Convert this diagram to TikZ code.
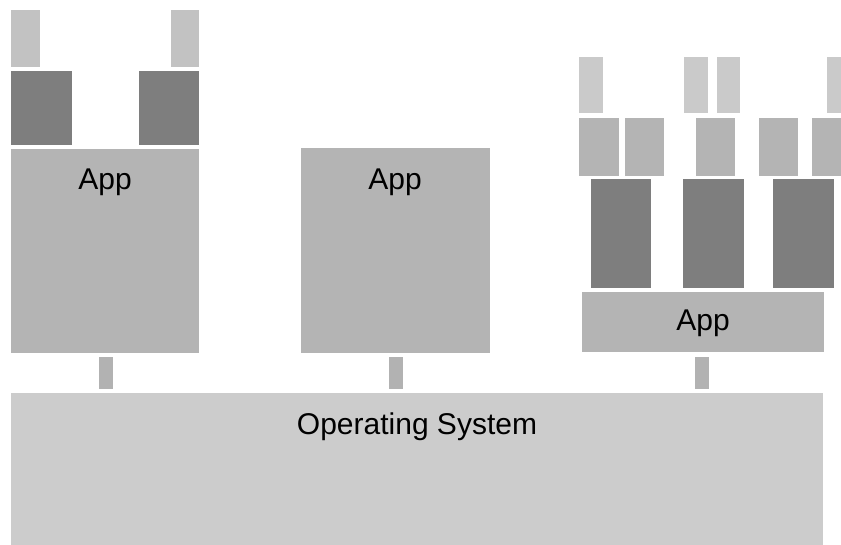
\documentclass[tikz,border=0pt]{standalone}
\usepackage{fontspec}
\setmainfont{Liberation Sans}
\definecolor{cLight}{HTML}{C2C2C2}
\definecolor{cLighter}{HTML}{CACACA}
\definecolor{cMid}{HTML}{B4B4B4}
\definecolor{cDark}{HTML}{7E7E7E}
\definecolor{cApp}{HTML}{B4B4B4}
\definecolor{cOS}{HTML}{CCCCCC}
\definecolor{cConn}{HTML}{B2B2B2}
\newcommand\blk[5]{\fill[#1] (#2,#3) rectangle (#4,#5);}
\begin{document}
\begin{tikzpicture}[x=1pt,y=-1pt,
  lbl/.style={anchor=base,inner sep=0pt,font=\fontsize{30}{33}\selectfont,text=black}]
\useasboundingbox (0,0) rectangle (841,545);
% operating system
\blk{cOS}{11}{393}{823}{545}
\node[lbl] (os) at (417,434) {Operating System};
% connectors
\blk{cConn}{99}{357}{113}{389}
\blk{cConn}{389}{357}{403}{389}
\blk{cConn}{695}{357}{709}{389}
% left app
\blk{cApp}{11}{149}{199}{353}
\node[lbl] (app1) at (105,190) {App};
\blk{cDark}{11}{71}{72}{145}
\blk{cDark}{139}{71}{199}{145}
\blk{cLight}{11}{10}{40}{67}
\blk{cLight}{171}{10}{199}{67}
% middle app
\blk{cApp}{301}{148}{490}{353}
\node[lbl] (app2) at (395,190) {App};
% right app
\blk{cApp}{582}{292}{824}{352}
\node[lbl] (app3) at (703,331) {App};
\blk{cDark}{591}{179}{651}{288}
\blk{cDark}{683}{179}{744}{288}
\blk{cDark}{773}{179}{834}{288}
\blk{cMid}{579}{118}{619}{176}
\blk{cMid}{625}{118}{664}{176}
\blk{cMid}{696}{118}{735}{176}
\blk{cMid}{759}{118}{798}{176}
\blk{cMid}{812}{118}{841}{176}
\blk{cLighter}{579}{57}{603}{113}
\blk{cLighter}{684}{57}{708}{113}
\blk{cLighter}{717}{57}{740}{113}
\blk{cLighter}{827}{57}{841}{113}
\end{tikzpicture}
\end{document}
